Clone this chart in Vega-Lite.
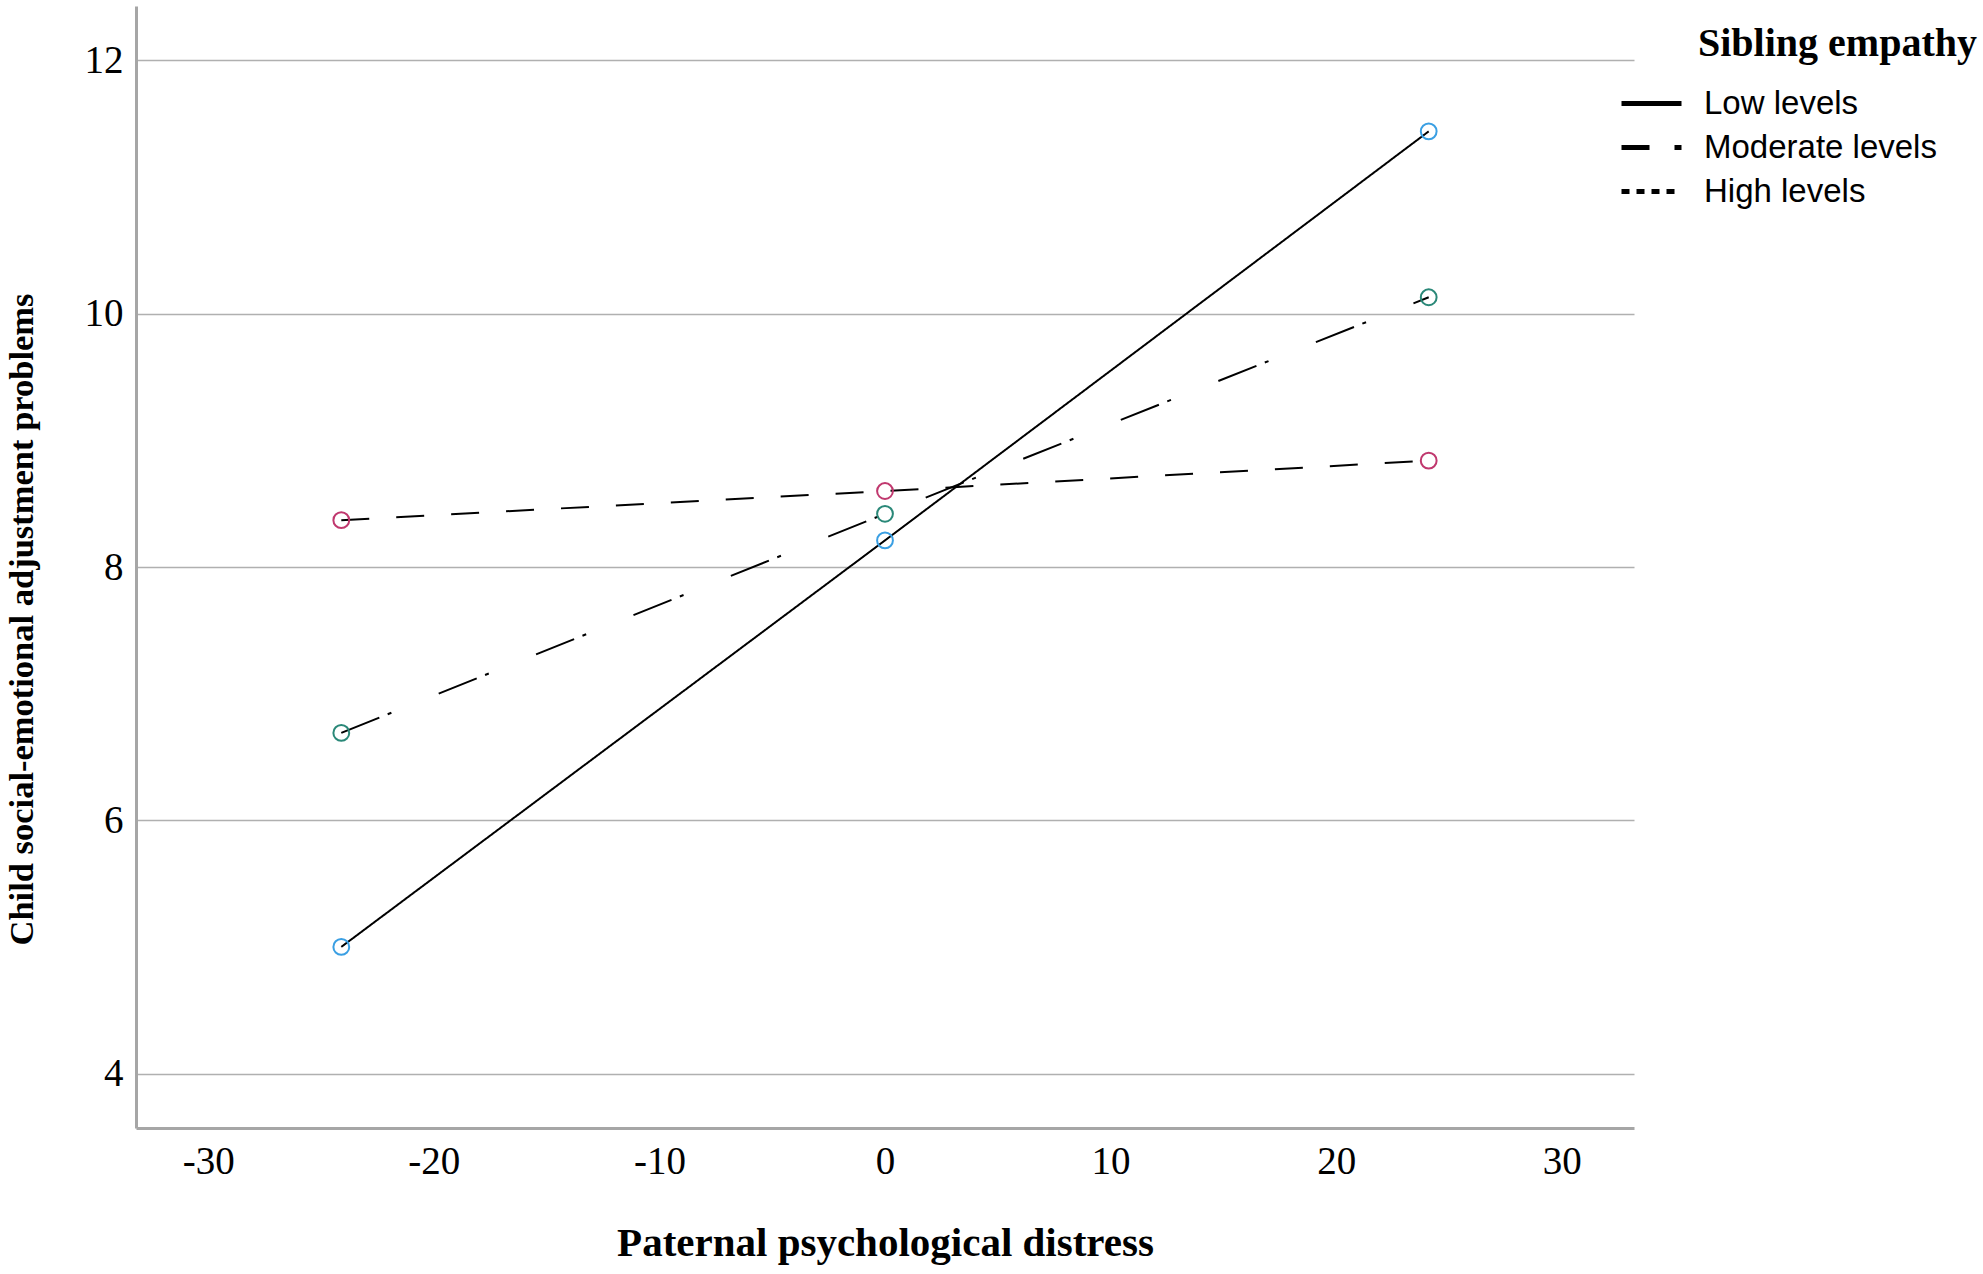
{
  "$schema": "https://vega.github.io/schema/vega-lite/v6.json",
  "width": 1498,
  "height": 1122,
  "autosize": {"type": "none"},
  "padding": {"left": 136, "top": 6, "right": 349, "bottom": 146},
  "background": "white",
  "title": {
    "text": "Sibling empathy",
    "orient": "top",
    "anchor": "start",
    "frame": "group",
    "offset": 0,
    "dx": 1562,
    "dy": 90,
    "baseline": "alphabetic",
    "font": "Liberation Serif",
    "fontSize": 40,
    "fontWeight": "bold",
    "color": "black"
  },
  "config": {
    "view": {"stroke": null},
    "axis": {
      "labelFont": "Liberation Serif",
      "labelFontSize": 39,
      "labelColor": "black",
      "titleFont": "Liberation Serif",
      "titleFontWeight": "bold",
      "titleColor": "black",
      "ticks": false,
      "domainColor": "#a6a6a6",
      "domainWidth": 3,
      "gridColor": "#b0b0b0",
      "gridWidth": 1.6
    }
  },
  "data": {
    "values": [
      {"distress": -24.1, "problems": 5.0, "empathy": "Low levels", "key": "Low levels"},
      {"distress": 0, "problems": 8.21, "empathy": "Low levels", "key": "Low levels"},
      {"distress": 24.1, "problems": 11.44, "empathy": "Low levels", "key": "Low levels"},
      {"distress": -24.1, "problems": 6.69, "empathy": "Moderate levels", "key": "Moderate levels"},
      {"distress": 0, "problems": 8.42, "empathy": "Moderate levels", "key": "Moderate levels"},
      {"distress": 24.1, "problems": 10.13, "empathy": "Moderate levels", "key": "Moderate levels"},
      {"distress": -24.1, "problems": 8.37, "empathy": "High levels", "key": "High levels"},
      {"distress": 0, "problems": 8.6, "empathy": "High levels", "key": "High levels"},
      {"distress": 24.1, "problems": 8.84, "empathy": "High levels", "key": "High levels"}
    ]
  },
  "encoding": {
    "x": {
      "field": "distress",
      "type": "quantitative",
      "scale": {"domain": [-33.2, 33.2], "nice": false, "zero": false},
      "axis": {
        "title": "Paternal psychological distress",
        "titleFontSize": 41,
        "titleY": 127,
        "titleBaseline": "alphabetic",
        "values": [-30, -20, -10, 0, 10, 20, 30],
        "labelExpr": "toString(datum.value)",
        "labelPadding": 14,
        "grid": false
      }
    },
    "y": {
      "field": "problems",
      "type": "quantitative",
      "scale": {"domain": [3.57, 12.43], "nice": false, "zero": false},
      "axis": {
        "title": "Child social-emotional adjustment problems",
        "titleFontSize": 34.5,
        "titleX": -104,
        "titleY": 613,
        "titleAngle": 270,
        "titleAlign": "center",
        "titleBaseline": "alphabetic",
        "values": [4, 6, 8, 10, 12],
        "labelPadding": 13,
        "grid": true
      }
    }
  },
  "layer": [
    {
      "mark": {"type": "line", "color": "black", "strokeWidth": 2},
      "encoding": {
        "strokeDash": {
          "field": "empathy",
          "type": "nominal",
          "scale": {
            "domain": ["Low levels", "Moderate levels", "High levels"],
            "range": [[1, 0], [41, 9, 4, 51], [28, 27]]
          },
          "legend": null
        }
      }
    },
    {
      "transform": [{"filter": "datum.distress == 0"}],
      "mark": {"type": "line", "color": "black", "strokeWidth": 5},
      "encoding": {
        "strokeDash": {
          "field": "key",
          "type": "nominal",
          "scale": {
            "domain": ["Low levels", "Moderate levels", "High levels"],
            "range": [[1, 0], [28, 25, 7, 100], [8, 7]]
          },
          "legend": {
            "title": null,
            "orient": "none",
            "legendX": 1483,
            "legendY": 80,
            "symbolType": "M-1,0H3",
            "symbolSize": 900,
            "symbolStrokeWidth": 5,
            "symbolStrokeColor": "black",
            "labelFont": "Liberation Sans",
            "labelFontSize": 33,
            "labelColor": "black",
            "labelOffset": 50,
            "labelLimit": 500,
            "rowPadding": 9
          }
        }
      }
    },
    {
      "mark": {"type": "point", "shape": "circle", "filled": false, "size": 250, "strokeWidth": 2, "opacity": 1},
      "encoding": {
        "color": {
          "field": "empathy",
          "type": "nominal",
          "scale": {
            "domain": ["Low levels", "Moderate levels", "High levels"],
            "range": ["#3a9fe3", "#2a8878", "#c0386e"]
          },
          "legend": null
        }
      }
    }
  ],
  "resolve": {
    "scale": {"strokeDash": "independent"},
    "legend": {"strokeDash": "independent"}
  }
}
